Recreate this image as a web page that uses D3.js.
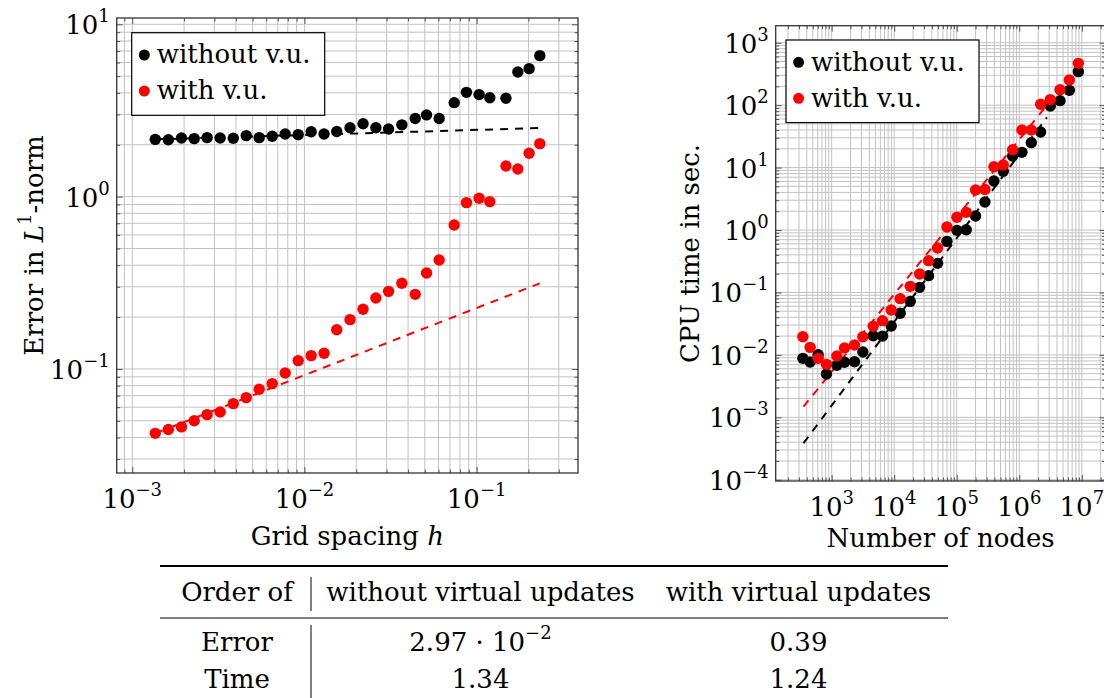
<!DOCTYPE html>
<html>
<head>
<meta charset="utf-8">
<script src="https://cdn.jsdelivr.net/npm/d3@7"></script>
<style>
  body { margin: 0; background: #fff; }
  text { font-family: "DejaVu Serif", serif; font-size: 26px; fill: #000; }
</style>
</head>
<body>
<script>
// ---- left panel: error vs grid spacing
var hValues = [1.36e-3, 1.62e-3, 1.93e-3, 2.29e-3, 2.72e-3, 3.24e-3, 3.86e-3, 4.59e-3, 5.46e-3, 6.50e-3,
               7.73e-3, 9.20e-3, 1.094e-2, 1.30e-2, 1.54e-2, 1.84e-2, 2.19e-2, 2.60e-2, 3.08e-2, 3.68e-2,
               4.40e-2, 5.12e-2, 6.06e-2, 7.41e-2, 8.73e-2, 0.1034, 0.1193, 0.148, 0.1735, 0.2018, 0.2328];
var errWithout = [2.15, 2.14, 2.19, 2.17, 2.20, 2.19, 2.18, 2.26, 2.20, 2.24,
                  2.31, 2.29, 2.38, 2.31, 2.39, 2.51, 2.65, 2.51, 2.47, 2.61,
                  2.84, 2.98, 2.84, 3.51, 4.03, 3.91, 3.75, 3.72, 5.29, 5.53, 6.58];
var errWith = [0.0423, 0.0445, 0.0461, 0.0501, 0.0543, 0.0563, 0.0629, 0.0682, 0.0762, 0.0822,
               0.0948, 0.1118, 0.1195, 0.1233, 0.169, 0.1933, 0.222, 0.258, 0.282, 0.314,
               0.271, 0.3606, 0.429, 0.685, 0.923, 0.978, 0.935, 1.507, 1.447, 1.784, 2.03];
// fitted lines (end points)
var errFitH = [1.36e-3, 0.2328];
var errFitWithout = [2.15, 2.50];
var errFitWith = [0.0423, 0.314];

// ---- right panel: cpu time vs number of nodes
var nodes = [346, 453, 608, 826, 1210, 1604, 2317, 3153, 4615, 6505,
             8955, 12470, 18030, 25420, 35400, 49340, 69640, 100600, 141900, 200100,
             282300, 393500, 554700, 782300, 1103000, 1556000, 2194000, 3130000, 4480000, 6310000, 8800000];
var timeWithout = [0.0088, 0.00769, 0.01007, 0.00494, 0.0068, 0.0076, 0.00778, 0.01111, 0.0203, 0.0200,
                   0.0290, 0.0463, 0.0720, 0.1207, 0.1856, 0.2924, 0.658, 0.988, 1.012, 1.676,
                   2.81, 6.09, 8.70, 15.32, 17.54, 25.05, 37.1, 96.8, 117.9, 172.6, 343.6];
var timeWith = [0.01956, 0.0132, 0.0088, 0.00705, 0.00959, 0.01288, 0.01439, 0.01956, 0.02864, 0.03532,
                0.0523, 0.0795, 0.1252, 0.1973, 0.3227, 0.5148, 1.117, 1.596, 1.919, 4.37,
                4.45, 10.34, 11.0, 19.35, 39.96, 40.0, 103.0, 122.4, 176.9, 252.7, 467.1];
var timeFitN = [354, 2.77e6];
var timeFitWithout = [3.84e-4, 63.8];
var timeFitWith = [1.48e-3, 99.8];

var legendLabels = ["without v.u.", "with v.u."];
var seriesColors = ["#000000", "#ff0000"];

// ---- table
var tableHead = ["Order of", "without virtual updates", "with virtual updates"];
var tableRowNames = ["Error", "Time"];
var tableWithout = [["2.97 · 10", "−2"], ["1.34", ""]];
var tableWith = [["0.39", ""], ["1.24", ""]];

var svg = d3.select("body").append("svg")
    .attr("width", 1104)
    .attr("height", 698);

svg.append("rect").attr("width", 1104).attr("height", 698).attr("fill", "#fff");

function isMajor(v) {
    var l = Math.log10(v);
    return Math.abs(l - Math.round(l)) < 1e-9;
}

function expLabel(t, v) {
    var e = Math.round(Math.log10(v));
    t.append("tspan").text("10");
    t.append("tspan").attr("font-size", "18px").attr("dy", -12)
        .text(e < 0 ? "\u2212" + (-e) : String(e));
}

function panel(o) {
    var x = d3.scaleLog().domain(o.xDomain).range([o.left, o.right]);
    var y = d3.scaleLog().domain(o.yDomain).range([o.bottom, o.top]);
    var g = svg.append("g");

    var xt = x.ticks(), yt = y.ticks();
    var xMaj = xt.filter(isMajor), xMin = xt.filter(function(v) { return !isMajor(v); });
    var yMaj = yt.filter(isMajor), yMin = yt.filter(function(v) { return !isMajor(v); });

    // grid
    g.append("g").selectAll("line").data(xt).join("line")
        .attr("x1", function(d) { return x(d); }).attr("x2", function(d) { return x(d); })
        .attr("y1", o.top).attr("y2", o.bottom)
        .attr("stroke", "#c2c2c2").attr("stroke-width", 1);
    g.append("g").selectAll("line").data(yt).join("line")
        .attr("y1", function(d) { return y(d); }).attr("y2", function(d) { return y(d); })
        .attr("x1", o.left).attr("x2", o.right)
        .attr("stroke", "#c2c2c2").attr("stroke-width", 1);

    // ticks on all four sides, pointing inwards
    function ticks(axisFn, scale, vals, len, tr) {
        var a = axisFn(scale).tickValues(vals).tickSizeInner(len).tickSizeOuter(0).tickFormat("");
        var ag = g.append("g").attr("transform", tr).call(a);
        ag.select(".domain").remove();
        ag.selectAll("line").attr("stroke", "#555");
    }
    ticks(d3.axisBottom, x, xMaj, -6, "translate(0," + o.bottom + ")");
    ticks(d3.axisBottom, x, xMin, -3.5, "translate(0," + o.bottom + ")");
    ticks(d3.axisTop, x, xMaj, -6, "translate(0," + o.top + ")");
    ticks(d3.axisTop, x, xMin, -3.5, "translate(0," + o.top + ")");
    ticks(d3.axisLeft, y, yMaj, -6, "translate(" + o.left + ",0)");
    ticks(d3.axisLeft, y, yMin, -3.5, "translate(" + o.left + ",0)");
    ticks(d3.axisRight, y, yMaj, -6, "translate(" + o.right + ",0)");
    ticks(d3.axisRight, y, yMin, -3.5, "translate(" + o.right + ",0)");

    // fitted dashed lines
    var line = d3.line().x(function(d) { return x(d[0]); }).y(function(d) { return y(d[1]); });
    o.fits.forEach(function(f, i) {
        g.append("path").datum(d3.zip(o.fitX, f))
            .attr("d", line).attr("fill", "none")
            .attr("stroke", seriesColors[i]).attr("stroke-width", 2)
            .attr("stroke-dasharray", "8,7");
    });

    // marks
    o.series.forEach(function(s, i) {
        g.append("g").selectAll("circle").data(d3.zip(o.xs, s)).join("circle")
            .attr("cx", function(d) { return x(d[0]); })
            .attr("cy", function(d) { return y(d[1]); })
            .attr("r", 5.7)
            .attr("fill", seriesColors[i]);
    });

    // frame
    g.append("rect").attr("x", o.left).attr("y", o.top)
        .attr("width", o.right - o.left).attr("height", o.bottom - o.top)
        .attr("fill", "none").attr("stroke", "#333").attr("stroke-width", 1.3);

    // tick labels
    g.append("g").selectAll("text").data(xMaj).join("text")
        .attr("x", function(d) { return x(d); }).attr("y", o.bottom + 35)
        .attr("text-anchor", "middle")
        .each(function(d) { expLabel(d3.select(this), d); });
    g.append("g").selectAll("text").data(yMaj).join("text")
        .attr("x", o.left - 7).attr("y", function(d) { return y(d) + 10; })
        .attr("text-anchor", "end")
        .each(function(d) { expLabel(d3.select(this), d); });

    // legend
    var lg = g.append("g").attr("transform", "translate(" + o.legend[0] + "," + o.legend[1] + ")");
    lg.append("rect").attr("width", 193).attr("height", 82.6)
        .attr("fill", "#fff").attr("stroke", "#000").attr("stroke-width", 1.2);
    legendLabels.forEach(function(lab, i) {
        lg.append("circle").attr("cx", 12.6).attr("cy", 22.3 + i * 36).attr("r", 5.5)
            .attr("fill", seriesColors[i]);
        lg.append("text").attr("x", 25).attr("y", 30.6 + i * 36).text(lab);
    });

    return g;
}

// left panel
var gl = panel({
    left: 116.7, right: 578, top: 18, bottom: 473,
    xDomain: [8.12e-4, 0.388], yDomain: [0.0249, 10.88],
    xs: hValues, series: [errWithout, errWith],
    fitX: errFitH, fits: [errFitWithout, errFitWith],
    legend: [131.7, 32.7]
});
var xl = gl.append("text").attr("x", 347.4).attr("y", 545).attr("text-anchor", "middle");
xl.append("tspan").text("Grid spacing ");
xl.append("tspan").attr("font-style", "italic").text("h");
var yl = gl.append("text").attr("transform", "translate(43,245.5) rotate(-90)").attr("text-anchor", "middle");
yl.append("tspan").text("Error in ");
yl.append("tspan").attr("font-style", "italic").text("L");
yl.append("tspan").attr("font-size", "18px").attr("dy", -12).text("1");
yl.append("tspan").attr("dy", 12).text("-norm");

// right panel
var gr = panel({
    left: 775.7, right: 1105.5, top: 25.7, bottom: 481,
    xDomain: [127.4, 2.39e7], yDomain: [9.55e-5, 1871],
    xs: nodes, series: [timeWithout, timeWith],
    fitX: timeFitN, fits: [timeFitWithout, timeFitWith],
    legend: [786, 40]
});
gr.append("text").attr("x", 940.6).attr("y", 547).attr("text-anchor", "middle").text("Number of nodes");
gr.append("text").attr("transform", "translate(699,253.4) rotate(-90)").attr("text-anchor", "middle")
    .text("CPU time in sec.");

// table
var colX = [237, 480.5, 798.5];
var tg = svg.append("g");
tg.append("line").attr("x1", 160).attr("x2", 948).attr("y1", 566).attr("y2", 566)
    .attr("stroke", "#000").attr("stroke-width", 2);
tg.append("line").attr("x1", 160).attr("x2", 948).attr("y1", 618).attr("y2", 618)
    .attr("stroke", "#000").attr("stroke-width", 1.2);
tg.append("line").attr("x1", 311).attr("x2", 311).attr("y1", 577).attr("y2", 611)
    .attr("stroke", "#000").attr("stroke-width", 1);
tg.append("line").attr("x1", 311).attr("x2", 311).attr("y1", 625).attr("y2", 698)
    .attr("stroke", "#000").attr("stroke-width", 1);
tableHead.forEach(function(h, i) {
    tg.append("text").attr("x", colX[i]).attr("y", 601).attr("text-anchor", "middle").text(h);
});
var rowY = [651, 688];
function cell(x, yy, c) {
    var t = tg.append("text").attr("x", x).attr("y", yy).attr("text-anchor", "middle");
    t.append("tspan").text(c[0]);
    if (c[1]) t.append("tspan").attr("font-size", "18px").attr("dy", -12).text(c[1]);
}
tableRowNames.forEach(function(name, i) {
    tg.append("text").attr("x", colX[0]).attr("y", rowY[i]).attr("text-anchor", "middle").text(name);
    cell(colX[1], rowY[i], tableWithout[i]);
    cell(colX[2], rowY[i], tableWith[i]);
});
</script>
</body>
</html>
